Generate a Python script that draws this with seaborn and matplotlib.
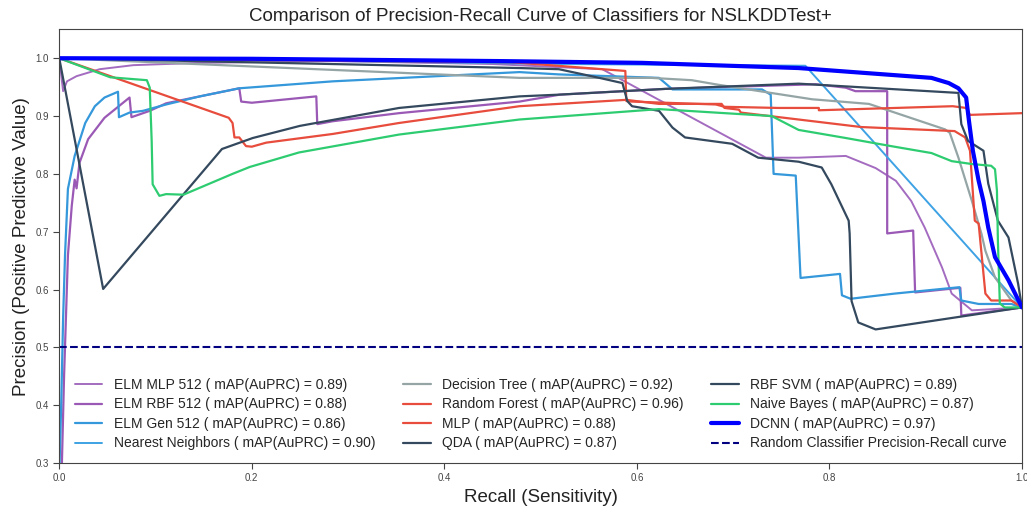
import numpy as np
import pandas as pd
import matplotlib
matplotlib.use("Agg")
import matplotlib.pyplot as plt
import seaborn as sns

# ==========================================
# DATA
# ==========================================

names = ["ELM MLP 512", "ELM RBF 512", "ELM Gen 512", "Nearest Neighbors",
         "Decision Tree", "Random Forest", "MLP", "QDA",
         "RBF SVM", "Naive Bayes", "DCNN"]
map_scores = [0.89, 0.88, 0.86, 0.90, 0.92, 0.96, 0.88, 0.87, 0.89, 0.87, 0.97]

elm_mlp_r = [0.0, 0.004, 0.008, 0.018, 0.042, 0.077, 0.146, 0.284, 0.45, 0.564,
             0.734, 0.768, 0.817, 0.848, 0.869, 0.885, 0.899, 0.917, 0.927, 0.948, 1.0]
elm_mlp_p = [1.0, 0.943, 0.960, 0.969, 0.981, 0.988, 0.992, 0.995, 0.990, 0.981,
             0.828, 0.828, 0.831, 0.810, 0.788, 0.753, 0.707, 0.638, 0.593, 0.564, 0.569]

elm_rbf_r = [0.002, 0.005, 0.009, 0.013, 0.016, 0.018, 0.021, 0.030, 0.047, 0.073,
             0.075, 0.094, 0.111, 0.146, 0.187, 0.189, 0.200, 0.267, 0.268, 0.284,
             0.353, 0.478, 0.52, 0.63, 0.786, 0.817, 0.827, 0.86, 0.86, 0.887,
             0.889, 0.936, 0.937, 1.0]
elm_rbf_p = [0.25, 0.45, 0.659, 0.745, 0.790, 0.775, 0.819, 0.860, 0.897, 0.932,
             0.898, 0.909, 0.922, 0.934, 0.948, 0.925, 0.923, 0.934, 0.886, 0.891,
             0.905, 0.925, 0.937, 0.947, 0.955, 0.949, 0.943, 0.943, 0.697, 0.702,
             0.595, 0.603, 0.555, 0.569]

elm_gen_r = [0.0, 0.002, 0.004, 0.006, 0.009, 0.016, 0.027, 0.037, 0.047, 0.061,
             0.062, 0.073, 0.087, 0.111, 0.146, 0.187, 0.284, 0.478, 0.519, 0.623,
             0.637, 0.730, 0.739, 0.742, 0.765, 0.770, 0.811, 0.813, 0.822, 0.868,
             0.935, 0.937, 0.955, 0.989, 1.0]
elm_gen_p = [0.28, 0.40, 0.55, 0.66, 0.774, 0.831, 0.888, 0.917, 0.932, 0.942,
             0.898, 0.906, 0.909, 0.920, 0.934, 0.948, 0.960, 0.976, 0.972, 0.966,
             0.946, 0.946, 0.937, 0.800, 0.797, 0.620, 0.627, 0.590, 0.584, 0.593,
             0.604, 0.581, 0.575, 0.575, 0.569]

nn_r = [0.0, 0.3, 0.52, 0.775, 1.0]
nn_p = [1.0, 0.995, 0.990, 0.987, 0.569]

dt_r = [0.0, 0.478, 0.615, 0.657, 0.685, 0.747, 0.782, 0.841, 0.920, 0.925,
        0.934, 0.948, 0.958, 0.962, 0.972, 0.989, 1.0]
dt_p = [1.0, 0.966, 0.966, 0.962, 0.954, 0.938, 0.929, 0.921, 0.877, 0.871,
        0.828, 0.753, 0.696, 0.667, 0.621, 0.581, 0.569]

rf_r = [0.0, 0.47, 0.588, 0.589, 0.595, 0.682, 0.691, 0.747, 0.789, 0.789,
        0.928, 0.942, 0.946, 1.0]
rf_p = [1.0, 0.993, 0.978, 0.926, 0.925, 0.920, 0.916, 0.914, 0.914, 0.910,
        0.917, 0.914, 0.902, 0.905]

mlp_r = [0.0, 0.176, 0.180, 0.182, 0.187, 0.194, 0.200, 0.215, 0.284, 0.353,
         0.478, 0.589, 0.623, 0.688, 0.691, 0.706, 0.708, 0.768, 0.833, 0.930,
         0.941, 0.946, 0.951, 0.955, 0.962, 0.968, 0.989, 1.0]
mlp_p = [1.0, 0.897, 0.888, 0.863, 0.863, 0.848, 0.847, 0.854, 0.869, 0.888,
         0.917, 0.928, 0.921, 0.921, 0.914, 0.911, 0.906, 0.894, 0.881, 0.874,
         0.863, 0.840, 0.719, 0.714, 0.593, 0.581, 0.581, 0.569]

qda_r = [0.0, 0.0456, 0.169, 0.201, 0.25, 0.353, 0.478, 0.519, 0.63, 0.768,
         0.934, 0.937, 0.944, 0.960, 0.965, 0.975, 0.986, 0.996, 1.0]
qda_p = [1.0, 0.601, 0.843, 0.862, 0.883, 0.914, 0.934, 0.937, 0.947, 0.956,
         0.940, 0.886, 0.857, 0.840, 0.783, 0.719, 0.690, 0.610, 0.569]

rbf_svm_r = [0.0, 0.478, 0.519, 0.561, 0.585, 0.590, 0.595, 0.623, 0.637, 0.650,
             0.699, 0.726, 0.768, 0.792, 0.802, 0.820, 0.821, 0.823, 0.830, 0.848, 1.0]
rbf_svm_p = [1.0, 0.983, 0.981, 0.966, 0.957, 0.926, 0.917, 0.909, 0.880, 0.863,
             0.852, 0.828, 0.821, 0.811, 0.782, 0.719, 0.697, 0.580, 0.543, 0.531, 0.569]

nb_r = [0.0, 0.053, 0.091, 0.094, 0.096, 0.097, 0.104, 0.111, 0.129, 0.18,
        0.198, 0.249, 0.353, 0.478, 0.623, 0.740, 0.768, 0.817, 0.864, 0.906,
        0.927, 0.948, 0.968, 0.972, 0.974, 0.975, 0.977, 0.982, 1.0]
nb_p = [1.0, 0.967, 0.962, 0.949, 0.857, 0.782, 0.762, 0.765, 0.764, 0.80,
        0.812, 0.837, 0.868, 0.894, 0.912, 0.900, 0.876, 0.862, 0.848, 0.836,
        0.822, 0.817, 0.814, 0.808, 0.771, 0.684, 0.576, 0.569, 0.569]

dcnn_r = [0.0, 0.2, 0.46, 0.605, 0.768, 0.906, 0.924, 0.934, 0.942, 0.945,
          0.949, 0.955, 0.960, 0.965, 0.972, 0.986, 1.0]
dcnn_p = [1.0, 0.999, 0.995, 0.992, 0.983, 0.966, 0.957, 0.948, 0.932, 0.891,
          0.840, 0.788, 0.753, 0.707, 0.656, 0.616, 0.569]

random_level = 0.5

curves_r = [elm_mlp_r, elm_rbf_r, elm_gen_r, nn_r, dt_r, rf_r, mlp_r,
            qda_r, rbf_svm_r, nb_r, dcnn_r]
curves_p = [elm_mlp_p, elm_rbf_p, elm_gen_p, nn_p, dt_p, rf_p, mlp_p,
            qda_p, rbf_svm_p, nb_p, dcnn_p]

colors = ["#a46cc0", "#9b59b6", "#3498db", "#3ea2e4", "#95a5a6", "#e74c3c",
          "#e74c3c", "#34495e", "#34495e", "#2ecc71", "blue"]
widths = [1.4, 1.6, 1.6, 1.4, 1.6, 1.6, 1.6, 1.6, 1.6, 1.6, 3.0]

# ==========================================
# STYLE
# ==========================================

sns.set_style("ticks")
plt.rcParams["font.family"] = ["Liberation Sans", "DejaVu Sans"]

fig = plt.figure(figsize=(10.27, 5.07), dpi=100)
ax = fig.add_axes([0.0577, 0.0868, 0.9374, 0.8554])

# ==========================================
# PLOT
# ==========================================

for name, score, r, p, c, w in zip(names, map_scores, curves_r, curves_p, colors, widths):
    df = pd.DataFrame({"Recall": r, "Precision": p})
    sns.lineplot(
        data=df,
        x="Recall",
        y="Precision",
        sort=False,
        estimator=None,
        color=c,
        lw=w,
        label=f"{name} ( mAP(AuPRC) = {score:.2f})",
        ax=ax
    )

ax.axhline(
    random_level,
    color="navy",
    linestyle="--",
    lw=1.5,
    label="Random Classifier Precision-Recall curve"
)

ax.set_xlim(0, 1)
ax.set_ylim(0.3, 1.05)
ax.set_xticks([0.0, 0.2, 0.4, 0.6, 0.8, 1.0])
ax.set_yticks([0.3, 0.4, 0.5, 0.6, 0.7, 0.8, 0.9, 1.0])
ax.tick_params(labelsize=7, length=4, colors="#444444")
for s in ax.spines.values():
    s.set_color("#444444")

ax.set_title("Comparison of Precision-Recall Curve of Classifiers for NSLKDDTest+",
             fontsize=13.5, color="#222222")
ax.set_xlabel("Recall (Sensitivity)", fontsize=13.5, color="#222222")
ax.set_ylabel("Precision (Positive Predictive Value)", fontsize=13.5, color="#222222")

ax.legend(
    loc="lower center",
    ncol=3,
    frameon=False,
    fontsize=10,
    handlelength=2,
    handletextpad=0.8,
    columnspacing=2,
    labelspacing=0.4
)

fig.savefig("out.png", dpi=100)
